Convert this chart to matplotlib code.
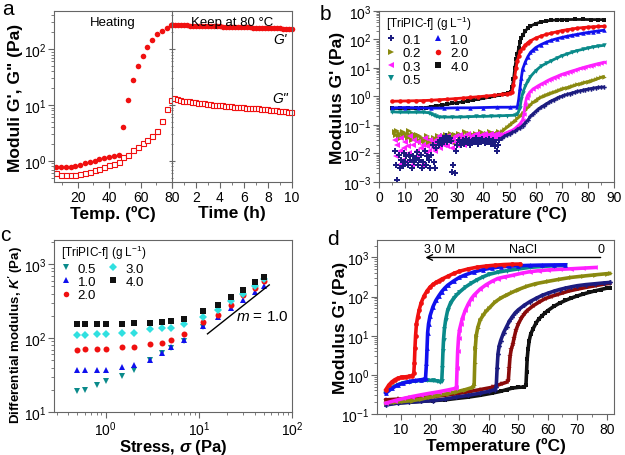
import matplotlib
matplotlib.use('Agg')
import matplotlib.pyplot as plt
from matplotlib.lines import Line2D
from matplotlib.ticker import LogLocator, MultipleLocator, NullFormatter

plt.rcParams['font.family'] = ['Liberation Sans', 'DejaVu Sans']
plt.rcParams['mathtext.fontset'] = 'custom'
plt.rcParams['mathtext.rm'] = 'Liberation Sans'
plt.rcParams['mathtext.it'] = 'Liberation Sans:italic'
plt.rcParams['mathtext.bf'] = 'Liberation Sans:bold'
plt.rcParams['mathtext.bfit'] = 'Liberation Sans:italic:bold'

# ---------------- panel a: heating then isothermal at 80 C ----------------
heat_T = [6.3, 9.4, 12.4, 15.5, 18.5, 21.6, 24.7, 27.7, 30.8, 33.8, 36.9, 39.9, 43.0,
          46.1, 49.1, 52.2, 55.2, 58.3, 61.3, 64.4, 67.4, 70.5, 73.5, 76.6, 79.6]
heat_G1 = [0.78, 0.78, 0.78, 0.78, 0.80, 0.84, 0.90, 0.95, 1.01, 1.09, 1.13, 1.19, 1.24,
           1.30, 4.1, 12.3, 27.6, 49.6, 75, 108, 143, 183, 211, 240, 265]
heat_G2 = [0.60, 0.56, 0.55, 0.55, 0.56, 0.58, 0.61, 0.64, 0.68, 0.72, 0.77, 0.83, 0.88,
           0.96, 1.16, 1.30, 1.57, 1.80, 2.07, 2.34, 2.83, 3.48, 5.25, 8.6, 12.3]

time_G1 = [0.0, 0.25, 0.5, 0.75, 1.0, 1.25, 1.5, 1.75, 2.0, 2.25, 2.5, 2.75, 3.0, 3.25,
           3.5, 3.75, 4.0, 4.25, 4.5, 4.75, 5.0, 5.25, 5.5, 5.75, 6.0, 6.25, 6.5, 6.75,
           7.0, 7.25, 7.5, 7.75, 8.0, 8.25, 8.5, 8.75, 9.0, 9.25, 9.5, 9.75, 10.0]
hold_G1 = [272, 271, 269, 268, 266, 265, 264, 263, 262, 261, 260, 259, 258, 257, 256, 255,
           254, 253, 252, 251, 250, 249, 248, 247, 246, 245, 244, 243, 242, 241, 240, 239,
           238, 237, 236, 235, 234, 233, 233, 232, 231]
time_G2 = [0.2, 0.45, 0.7, 0.95, 1.2, 1.45, 1.7, 1.95, 2.2, 2.45, 2.7, 2.95, 3.2, 3.45,
           3.7, 3.95, 4.2, 4.45, 4.7, 4.95, 5.2, 5.45, 5.7, 5.95, 6.2, 6.45, 6.7, 6.95,
           7.2, 7.45, 7.7, 7.95, 8.2, 8.45, 8.7, 8.95, 9.2, 9.45, 9.7, 9.95]
hold_G2 = [13.3, 12.6, 12.3, 12.0, 11.8, 11.6, 11.4, 11.2, 11.0, 10.9, 10.7, 10.5, 10.4,
           10.2, 10.1, 9.9, 9.8, 9.7, 9.6, 9.5, 9.4, 9.3, 9.2, 9.1, 9.0, 8.95, 8.9, 8.8,
           8.7, 8.6, 8.5, 8.4, 8.25, 8.1, 8.0, 7.9, 7.8, 7.7, 7.55, 7.4]

# ---------------- panel b: G' vs temperature for several concentrations ----------------
T_low = [6.0, 6.5, 7.0, 7.5, 8.0, 8.5, 9.0, 9.5, 10.0, 10.5,
         11.0, 11.5, 12.0, 12.5, 13.0, 13.5, 14.0, 14.5, 15.0, 15.5,
         16.0, 16.5, 17.0, 17.5, 18.0, 18.5, 19.0, 19.5, 20.0, 20.5,
         21.0, 21.5, 22.0, 22.5, 23.0, 23.5, 24.0, 24.5, 25.0, 25.5,
         26.0, 26.5, 27.0, 27.5, 28.0, 28.5, 29.0, 29.5, 30.0, 30.5,
         31.0, 31.5, 32.0, 32.5, 33.0, 33.5, 34.0, 34.5, 35.0, 35.5,
         36.0, 36.5, 37.0, 37.5, 38.0, 38.5, 39.0, 39.5, 40.0, 40.5,
         41.0, 41.5, 42.0, 42.5, 43.0, 43.5, 44.0, 44.5, 45.0, 45.5, 46.0]
T_high = [47, 48, 49, 50, 51, 52, 53, 54, 55, 56, 57, 58, 59, 60, 61, 62, 63, 64, 65, 66,
          67, 68, 69, 70, 71, 72, 73, 74, 75, 76, 77, 78, 79, 80, 81, 82, 83, 84, 85, 86]

b01_low = [0.012, 0.004, 0.0012, 0.009, 0.003, 0.006, 0.0035, 0.01, 0.005, 0.008,
           0.004, 0.009, 0.006, 0.003, 0.008, 0.005, 0.007, 0.011, 0.004, 0.006,
           0.009, 0.003, 0.005, 0.012, 0.004, 0.008, 0.006, 0.003, 0.009, 0.02,
           0.005, 0.003, 0.015, 0.025, 0.02, 0.03, 0.022, 0.035, 0.03, 0.04,
           0.025, 0.03, 0.035, 0.028, 0.0022, 0.004, 0.002, 0.012, 0.02, 0.03,
           0.025, 0.02, 0.03, 0.022, 0.028, 0.032, 0.025, 0.03, 0.02, 0.028,
           0.03, 0.025, 0.035, 0.028, 0.022, 0.03, 0.026, 0.032, 0.028, 0.024,
           0.03, 0.025, 0.032, 0.028, 0.022, 0.03, 0.025, 0.018, 0.012, 0.02, 0.03]
b01_high = [0.035, 0.04, 0.045, 0.05, 0.055, 0.06, 0.07, 0.08, 0.095, 0.12, 0.15, 0.2,
            0.25, 0.3, 0.36, 0.42, 0.48, 0.55, 0.62, 0.7, 0.78, 0.86, 0.94, 1.02, 1.1,
            1.18, 1.26, 1.34, 1.42, 1.5, 1.58, 1.66, 1.74, 1.82, 1.9, 1.97, 2.03, 2.08,
            2.12, 2.15]

b02_low = [0.055, 0.045, 0.06, 0.04, 0.05, 0.035, 0.055, 0.045, 0.04, 0.05,
           0.035, 0.06, 0.045, 0.03, 0.05, 0.04, 0.035, 0.045, 0.03, 0.04,
           0.025, 0.035, 0.03, 0.022, 0.03, 0.04, 0.025, 0.02, 0.03, 0.025,
           0.035, 0.022, 0.03, 0.04, 0.028, 0.035, 0.025, 0.04, 0.03, 0.045,
           0.035, 0.03, 0.04, 0.05, 0.035, 0.03, 0.045, 0.025, 0.04, 0.05,
           0.035, 0.045, 0.03, 0.04, 0.055, 0.035, 0.045, 0.03, 0.05, 0.04,
           0.045, 0.035, 0.05, 0.04, 0.03, 0.045, 0.055, 0.04, 0.05, 0.035,
           0.045, 0.05, 0.04, 0.055, 0.045, 0.05, 0.04, 0.05, 0.045, 0.05, 0.055]
b02_high = [0.06, 0.07, 0.085, 0.1, 0.12, 0.14, 0.17, 0.21, 0.26, 0.33, 0.42, 0.52, 0.62,
            0.72, 0.85, 0.95, 1.05, 1.15, 1.25, 1.35, 1.45, 1.55, 1.7, 1.85, 1.95, 2.05,
            2.2, 2.35, 2.5, 2.65, 2.8, 3.0, 3.15, 3.35, 3.55, 3.75, 4.0, 4.3, 4.7, 5.0]

b03_low = [0.03, 0.008, 0.02, 0.004, 0.012, 0.035, 0.006, 0.015, 0.025, 0.005,
           0.018, 0.01, 0.04, 0.004, 0.02, 0.03, 0.007, 0.012, 0.025, 0.009,
           0.015, 0.004, 0.02, 0.035, 0.01, 0.018, 0.012, 0.03, 0.02, 0.015,
           0.025, 0.012, 0.03, 0.02, 0.04, 0.015, 0.025, 0.035, 0.02, 0.03,
           0.018, 0.04, 0.025, 0.03, 0.015, 0.035, 0.025, 0.04, 0.02, 0.03,
           0.045, 0.025, 0.035, 0.02, 0.04, 0.03, 0.05, 0.025, 0.035, 0.04,
           0.03, 0.045, 0.035, 0.05, 0.025, 0.04, 0.03, 0.045, 0.035, 0.05,
           0.04, 0.03, 0.045, 0.035, 0.05, 0.04, 0.045, 0.035, 0.05, 0.04, 0.045]
b03_T_high = [47, 48, 49, 50, 51, 52, 53, 54, 55, 55.5, 56, 56.5, 57, 58, 59, 60, 61, 62,
              63, 64, 65, 66, 67, 68, 69, 70, 71, 72, 73, 74, 75, 76, 77, 78, 79, 80, 81,
              82, 83, 84, 85, 86]
b03_high = [0.045, 0.05, 0.055, 0.06, 0.065, 0.075, 0.09, 0.11, 0.15, 0.25, 0.55, 0.9,
            1.15, 1.5, 1.85, 2.1, 2.4, 2.7, 3.0, 3.4, 3.8, 4.2, 4.6, 5.0, 5.5, 6.0, 6.4,
            6.9, 7.4, 7.9, 8.4, 9.0, 9.6, 10.2, 10.9, 11.5, 12.2, 12.9, 13.6, 14.3, 15.0, 15.8]

b05_T = [5, 8, 11, 14, 17, 19, 20, 21, 22, 23, 25, 28, 31, 34, 37, 40, 43, 46, 49, 52, 53,
         54, 54.5, 55, 56, 57, 58, 60, 62, 64, 66, 68, 70, 72, 74, 76, 78, 80, 82, 84, 86]
b05_G = [0.29, 0.28, 0.28, 0.28, 0.28, 0.27, 0.25, 0.22, 0.2, 0.19, 0.19, 0.19, 0.19,
         0.195, 0.2, 0.2, 0.205, 0.21, 0.215, 0.22, 0.24, 0.4, 0.8, 1.3, 2.3, 3.6, 5, 8,
         11.5, 14.5, 18, 22, 27, 31, 36, 41, 45, 50, 55, 59, 62]

b10_T = [5, 10, 15, 20, 25, 30, 35, 40, 45, 50, 53, 53.5, 54, 54.5, 55, 56, 57, 58, 59, 60,
         62, 64, 66, 68, 70, 72, 74, 76, 78, 80, 82, 84, 86]
b10_G = [0.40, 0.41, 0.40, 0.39, 0.39, 0.40, 0.40, 0.41, 0.42, 0.42, 0.43, 0.8, 2, 4.5, 9,
         16, 25, 35, 43, 52, 66, 80, 94, 106, 118, 130, 141, 152, 165, 176, 188, 200, 210]

b20_T = [5, 8, 11, 14, 17, 20, 23, 26, 29, 32, 35, 38, 41, 44, 47, 49, 50, 51, 51.5, 52,
         52.5, 53, 53.5, 54, 55, 56, 57, 58, 60, 62, 64, 66, 68, 70, 72, 74, 76, 78, 80,
         82, 84, 86]
b20_G = [0.68, 0.69, 0.7, 0.71, 0.72, 0.74, 0.77, 0.8, 0.84, 0.88, 0.93, 0.98, 1.04, 1.1,
         1.18, 1.25, 1.3, 1.45, 2.5, 5, 10, 18, 26, 38, 50, 64, 78, 90, 112, 132, 150, 168,
         185, 205, 220, 235, 250, 262, 272, 280, 287, 290]

b40_T = [5, 8, 11, 14, 16, 18, 20, 22, 24, 26, 28, 30, 32, 34, 36, 38, 40, 42, 44, 46, 48,
         49.5, 50.5, 51, 51.5, 52, 52.5, 53, 53.5, 54, 54.5, 55, 56, 57, 58, 60, 62, 64, 66,
         68, 70, 72, 75, 78, 81, 84, 86]
b40_G = [0.38, 0.38, 0.38, 0.38, 0.39, 0.41, 0.44, 0.47, 0.5, 0.53, 0.57, 0.61, 0.65, 0.7,
         0.75, 0.8, 0.86, 0.93, 1.0, 1.1, 1.2, 1.3, 1.4, 2.2, 4, 10, 20, 30, 50, 80, 110,
         140, 195, 250, 295, 360, 410, 445, 470, 485, 495, 500, 505, 505, 500, 498, 495]

b_labels = ['0.1', '0.2', '0.3', '0.5', '1.0', '2.0', '4.0']

# ---------------- panel c: differential modulus vs stress ----------------
c_stress = [0.5, 0.6, 0.8, 1.0, 1.5, 2.0, 3.0, 4.0, 5.0, 7.0, 11, 16, 22, 30, 40, 50]
c_K05 = [19.4, 20, 23, 26, 31, 37, 50, 62, 74, 92, 143]
c_K10 = [37, 37, 37, 37, 41, 43, 51, 63, 75, 94, 147, 194, 256, 324, 427, 513]
c_K20 = [70, 72, 72, 72, 75, 76, 83, 87, 95, 112, 164, 205, 283, 378, 473, 600]
c_K30 = [109, 111, 114, 114, 117, 117, 131, 136, 139, 153, 190, 243, 318, 398, 513, 630]
c_K40 = [155, 155, 155, 155, 155, 158, 161, 165, 170, 179, 233, 283, 358, 453, 567, 675]
c_labels = ['0.5', '1.0', '2.0', '3.0', '4.0']
guide_x = [12.4, 57]
guide_k = 9.2   # K' = guide_k * sigma^1

# ---------------- panel d: G' vs temperature at various NaCl ----------------
d_red_T = [5, 6, 7, 8, 9, 10, 11, 12, 13, 14, 14.5, 14.7, 14.9, 15.1, 15.4, 15.8, 16.3, 17,
           18, 19, 20, 21, 22, 23, 24, 26, 28, 30, 33, 36, 39, 42, 45, 48, 50.5]
d_red_G = [0.42, 0.55, 0.66, 0.75, 0.82, 0.86, 0.88, 0.9, 0.92, 0.95, 1.1, 2, 5, 10, 20, 30,
           45, 70, 105, 140, 175, 205, 230, 255, 280, 330, 390, 445, 510, 565, 605, 635,
           660, 675, 680]
d_blue_T = [5, 7, 9, 11, 13, 15, 17, 18, 18.5, 18.8, 19, 19.2, 19.5, 20, 21, 22, 23, 24, 25,
            26, 28, 30, 32, 35, 38, 41, 44, 47, 50, 54, 58, 62, 66]
d_blue_G = [0.34, 0.45, 0.55, 0.62, 0.68, 0.72, 0.75, 0.78, 0.85, 2, 5, 12, 20, 32, 55, 80,
            105, 135, 165, 195, 250, 310, 360, 430, 490, 540, 575, 600, 615, 630, 640, 645, 650]
d_teal_T = [5, 7, 9, 11, 13, 15, 17, 19, 21, 22.5, 23.5, 24, 24.2, 24.4, 24.6, 24.9, 25.3,
            26, 27, 28, 29, 30, 32, 34, 36, 38, 40, 43, 46, 50, 54, 58, 62, 66]
d_teal_G = [0.36, 0.47, 0.56, 0.63, 0.67, 0.7, 0.72, 0.73, 0.72, 0.7, 0.66, 0.7, 1.5, 4, 8,
            15, 25, 45, 70, 90, 110, 130, 175, 220, 270, 320, 370, 420, 460, 510, 560, 590,
            615, 630]
d_mag_T = [5, 8, 11, 14, 17, 20, 23, 26, 28.5, 29, 29.2, 29.4, 29.7, 30, 30.5, 31, 32, 33,
           34, 35, 37, 39, 41, 43, 45, 48, 51, 54, 57, 60, 64, 68, 72, 76]
d_mag_G = [0.19, 0.22, 0.25, 0.28, 0.31, 0.34, 0.37, 0.41, 0.45, 0.5, 1.5, 4, 9, 14, 20, 28,
           45, 65, 88, 110, 155, 200, 245, 290, 315, 350, 395, 435, 460, 480, 500, 515, 535, 555]
d_olive_T = [5, 8, 11, 14, 17, 20, 23, 26, 29, 32, 34.5, 35, 35.2, 35.4, 35.7, 36.2, 37, 38,
             39, 40, 42, 44, 46, 48, 50, 53, 56, 60, 64, 68, 72, 76, 80, 81]
d_olive_G = [0.19, 0.2, 0.21, 0.22, 0.24, 0.27, 0.3, 0.33, 0.37, 0.42, 0.48, 0.55, 2, 5, 10,
             16, 25, 33, 42, 50, 72, 92, 110, 130, 152, 185, 215, 245, 278, 310, 335, 360,
             385, 390]
d_navy_T = [5, 9, 13, 17, 21, 25, 29, 33, 37, 40, 42, 42.5, 42.8, 43.1, 43.5, 44, 45, 46, 47,
            48, 49, 50, 52, 54, 56, 58, 60, 62, 64, 66, 68, 70, 73, 76, 79, 81]
d_navy_G = [0.17, 0.19, 0.2, 0.21, 0.22, 0.24, 0.27, 0.3, 0.34, 0.38, 0.42, 0.5, 1.5, 3.5,
            5.5, 7.5, 12, 17, 24, 31, 39, 46, 60, 75, 90, 107, 122, 137, 152, 165, 178, 190,
            203, 213, 224, 230]
d_wine_T = [5, 9, 13, 17, 21, 25, 29, 33, 37, 41, 44, 46, 46.6, 46.9, 47.2, 47.6, 48.1, 48.6,
            49.2, 50, 51, 52, 53, 55, 57, 59, 61, 63, 65, 67, 70, 73, 76, 79, 81]
d_wine_G = [0.23, 0.24, 0.25, 0.26, 0.28, 0.3, 0.33, 0.37, 0.42, 0.48, 0.58, 0.65, 0.72, 1.5,
            3, 4.5, 6, 9, 14, 20, 28, 36, 44, 58, 72, 88, 100, 112, 124, 138, 155, 172, 190,
            208, 218]
d_black_T = [5, 9, 13, 17, 21, 25, 29, 33, 37, 41, 44, 46, 48, 50, 52, 52.6, 52.8, 53, 53.3,
             53.7, 54.2, 55, 56, 57, 58, 59, 60, 62, 64, 66, 68, 70, 72, 74, 76, 78, 80, 81]
d_black_G = [0.18, 0.19, 0.2, 0.21, 0.22, 0.23, 0.25, 0.27, 0.3, 0.34, 0.38, 0.42, 0.46, 0.48,
             0.49, 0.55, 1.2, 2.5, 4.5, 7.5, 11, 15, 21, 27, 32, 38, 44, 56, 68, 80, 92, 104,
             116, 128, 140, 152, 164, 170]
arrow_T = [78.9, 17.5]

# colours (Origin-like)
NAVY, OLIVE, MAG, TEAL = '#1c1c80', '#8a8a10', '#ff20ff', '#0a8a8a'
BLUE, RED, BLACK, WINE, CYAN = '#1010ee', '#f01010', '#111111', '#8a0a0a', '#30e0e0'
frame_color = '#666666'

fig = plt.figure(figsize=(6.25, 4.56), dpi=100)


def style(ax):
    for s in ax.spines.values():
        s.set_color(frame_color)
        s.set_linewidth(0.8)
    ax.tick_params(which='both', direction='out', color=frame_color, labelsize=10,
                   top=False, right=False, pad=1.5)
    ax.tick_params(which='major', length=4, width=0.8)
    ax.tick_params(which='minor', length=2, width=0.6)


def logy(ax):
    ax.set_yscale('log')
    ax.yaxis.set_major_locator(LogLocator(base=10, numticks=10))
    ax.yaxis.set_minor_locator(LogLocator(base=10, subs=range(2, 10), numticks=10))
    ax.yaxis.set_minor_formatter(NullFormatter())


def small_legend(ax, handles, labels):
    leg = ax.legend(handles, labels, ncol=2, loc='upper left', frameon=False,
                    title='[TriPIC-f] (g L$^{-1}$)', title_fontsize=8.5, fontsize=9.5,
                    bbox_to_anchor=(0.0, 1.02), borderaxespad=0.2, handlelength=0.8,
                    handletextpad=0.5, columnspacing=0.9, labelspacing=0.08,
                    borderpad=0.3)
    leg._legend_box.align = 'left'
    leg._legend_box.sep = 1
    return leg


# ---- a ----
ax_a1 = fig.add_axes([0.0864, 0.5987, 0.1888, 0.375])
ax_a2 = fig.add_axes([0.2752, 0.5987, 0.192, 0.375])
for ax in (ax_a1, ax_a2):
    style(ax)
    logy(ax)
    ax.set_ylim(0.42, 480)
ax_a1.plot(heat_T, heat_G1, 'o', color=RED, ms=4, mew=0, clip_on=False)
ax_a1.plot(heat_T, heat_G2, 's', color=RED, mfc='white', ms=3.6, mew=0.8, clip_on=False)
ax_a1.set_xlim(5, 80)
ax_a1.xaxis.set_major_locator(MultipleLocator(20))
ax_a1.xaxis.set_minor_locator(MultipleLocator(10))
ax_a1.spines['right'].set_visible(False)
ax_a1.set_xlabel('Temp. (ºC)', fontsize=12.5, fontweight='bold', labelpad=1)
ax_a1.set_ylabel('Moduli G\', G" (Pa)', fontsize=12.5, fontweight='bold')
ax_a1.yaxis.set_label_coords(-0.26, 0.5)
ax_a1.text(0.5, 0.97, 'Heating', transform=ax_a1.transAxes, ha='center', va='top', fontsize=9.5)

ax_a2.plot(time_G1, hold_G1, 'o', color=RED, ms=4, mew=0, clip_on=False)
ax_a2.plot(time_G2, hold_G2, 's', color=RED, mfc='white', ms=3.6, mew=0.8, clip_on=False)
ax_a2.set_xlim(0, 10)
ax_a2.set_xticks([0, 2, 4, 6, 8, 10])
ax_a2.set_xticklabels(['', '2', '4', '6', '8', '10'])
ax_a2.xaxis.set_minor_locator(MultipleLocator(1))
ax_a2.tick_params(axis='y', which='both', direction='inout', labelleft=False)
ax_a2.set_xlabel('Time (h)', fontsize=12.5, fontweight='bold', labelpad=1)
ax_a2.text(0.5, 0.97, 'Keep at 80 °C', transform=ax_a2.transAxes, ha='center', va='top',
           fontsize=9.5)
ax_a2.text(9.0, 150, "G'", style='italic', fontsize=10, ha='center', va='center')
ax_a2.text(9.0, 13.5, 'G"', style='italic', fontsize=10, ha='center', va='center')

# ---- b ----
ax_b = fig.add_axes([0.6064, 0.5987, 0.376, 0.375])
style(ax_b)
logy(ax_b)
ax_b.set_xlim(0, 90)
ax_b.set_ylim(1e-3, 1e3)
ax_b.xaxis.set_major_locator(MultipleLocator(10))
ax_b.xaxis.set_minor_locator(MultipleLocator(5))
lw_b, ms_b = 2.0, 3.2
ax_b.plot(b40_T, b40_G, '-s', color=BLACK, lw=lw_b, ms=ms_b, mew=0)
ax_b.plot(b20_T, b20_G, '-o', color=RED, lw=lw_b, ms=ms_b, mew=0)
ax_b.plot(b10_T, b10_G, '-^', color=BLUE, lw=lw_b, ms=ms_b, mew=0)
ax_b.plot(b05_T, b05_G, '-v', color=TEAL, lw=lw_b, ms=ms_b, mew=0)
ax_b.plot(T_low, b02_low, '>', color=OLIVE, ms=ms_b + 0.6, mew=0)
ax_b.plot(T_high, b02_high, '->', color=OLIVE, lw=lw_b, ms=ms_b, mew=0)
ax_b.plot(T_low, b03_low, '<', color=MAG, ms=ms_b + 0.6, mew=0)
ax_b.plot(b03_T_high, b03_high, '-<', color=MAG, lw=lw_b, ms=ms_b, mew=0)
ax_b.plot(T_low, b01_low, 'P', color=NAVY, ms=ms_b + 0.6, mew=0)
ax_b.plot(T_high, b01_high, '-P', color=NAVY, lw=lw_b, ms=ms_b, mew=0)
ax_b.set_xlabel('Temperature (ºC)', fontsize=12.5, fontweight='bold', labelpad=1)
ax_b.set_ylabel("Modulus G' (Pa)", fontsize=12.5, fontweight='bold')
ax_b.yaxis.set_label_coords(-0.145, 0.5)
b_styles = [('P', NAVY), ('>', OLIVE), ('<', MAG), ('v', TEAL), ('^', BLUE), ('o', RED),
            ('s', BLACK)]
b_handles = [Line2D([], [], ls='none', marker=m, color=c, ms=4, mew=0) for m, c in b_styles]
small_legend(ax_b, b_handles, b_labels)

# ---- c ----
ax_c = fig.add_axes([0.0864, 0.0943, 0.3808, 0.378])
style(ax_c)
logy(ax_c)
ax_c.set_xscale('log')
ax_c.xaxis.set_major_locator(LogLocator(base=10, numticks=10))
ax_c.xaxis.set_minor_locator(LogLocator(base=10, subs=range(2, 10), numticks=10))
ax_c.xaxis.set_minor_formatter(NullFormatter())
ax_c.set_xlim(0.28, 100)
ax_c.set_ylim(10, 2150)
ms_c = 4.3
ax_c.plot(c_stress[:len(c_K05)], c_K05, 'v', color=TEAL, ms=ms_c, mew=0)
ax_c.plot(c_stress, c_K10, '^', color=BLUE, ms=ms_c, mew=0)
ax_c.plot(c_stress, c_K20, 'o', color=RED, ms=ms_c, mew=0)
ax_c.plot(c_stress, c_K30, 'D', color=CYAN, ms=ms_c - 0.5, mew=0)
ax_c.plot(c_stress, c_K40, 's', color=BLACK, ms=ms_c - 0.3, mew=0)
ax_c.plot(guide_x, [guide_k * x for x in guide_x], '-', color='black', lw=1.0)
ax_c.text(25, 200, '$m$ = 1.0', fontsize=11, ha='left', va='center')
ax_c.set_xlabel(r'Stress, $\mathbfit{\sigma}$ (Pa)', fontsize=12, fontweight='bold',
                labelpad=-1)
ax_c.set_ylabel(r"Differential modulus, $\mathbfit{K'}$ (Pa)", fontsize=9.5,
                fontweight='bold')
ax_c.yaxis.set_label_coords(-0.122, 0.45)
c_styles = [('v', TEAL), ('^', BLUE), ('o', RED), ('D', CYAN), ('s', BLACK)]
c_handles = [Line2D([], [], ls='none', marker=m, color=c, ms=4, mew=0) for m, c in c_styles]
small_legend(ax_c, c_handles, c_labels)

# ---- d ----
ax_d = fig.add_axes([0.6032, 0.0899, 0.3792, 0.3816])
style(ax_d)
logy(ax_d)
ax_d.set_xlim(2, 82.5)
ax_d.set_ylim(0.1, 2800)
ax_d.xaxis.set_major_locator(MultipleLocator(10))
ax_d.xaxis.set_minor_locator(MultipleLocator(5))
lw_d, ms_d = 2.6, 3.4
ax_d.plot(d_black_T, d_black_G, '-s', color=BLACK, lw=lw_d, ms=ms_d, mew=0)
ax_d.plot(d_wine_T, d_wine_G, '-*', color=WINE, lw=lw_d, ms=ms_d + 1, mew=0)
ax_d.plot(d_navy_T, d_navy_G, '-P', color=NAVY, lw=lw_d, ms=ms_d, mew=0)
ax_d.plot(d_olive_T, d_olive_G, '->', color=OLIVE, lw=lw_d, ms=ms_d, mew=0)
ax_d.plot(d_mag_T, d_mag_G, '-<', color=MAG, lw=lw_d, ms=ms_d, mew=0)
ax_d.plot(d_teal_T, d_teal_G, '-v', color=TEAL, lw=lw_d, ms=ms_d, mew=0)
ax_d.plot(d_blue_T, d_blue_G, '-^', color=BLUE, lw=lw_d, ms=ms_d, mew=0)
ax_d.plot(d_red_T, d_red_G, '-o', color=RED, lw=lw_d, ms=ms_d, mew=0)
ax_d.annotate('', xy=(arrow_T[1], 1000), xytext=(arrow_T[0], 1000),
              arrowprops=dict(arrowstyle='->', color='black', lw=1.0))
ax_d.text(18, 1650, '3.0 M', fontsize=9, ha='left', va='center')
ax_d.text(51.5, 1650, 'NaCl', fontsize=9, ha='center', va='center')
ax_d.text(78, 1650, '0', fontsize=9, ha='center', va='center')
ax_d.set_xlabel('Temperature (ºC)', fontsize=12.5, fontweight='bold', labelpad=1)
ax_d.set_ylabel("Modulus G' (Pa)", fontsize=12.5, fontweight='bold')
ax_d.yaxis.set_label_coords(-0.122, 0.5)

# panel letters
fig.text(2 / 625, 1 - 15 / 456, 'a', fontsize=15, va='baseline')
fig.text(320 / 625, 1 - 20 / 456, 'b', fontsize=15, va='baseline')
fig.text(0 / 625, 1 - 241 / 456, 'c', fontsize=15, va='baseline')
fig.text(327 / 625, 1 - 245 / 456, 'd', fontsize=15, va='baseline')

fig.savefig('out.png', dpi=100)
